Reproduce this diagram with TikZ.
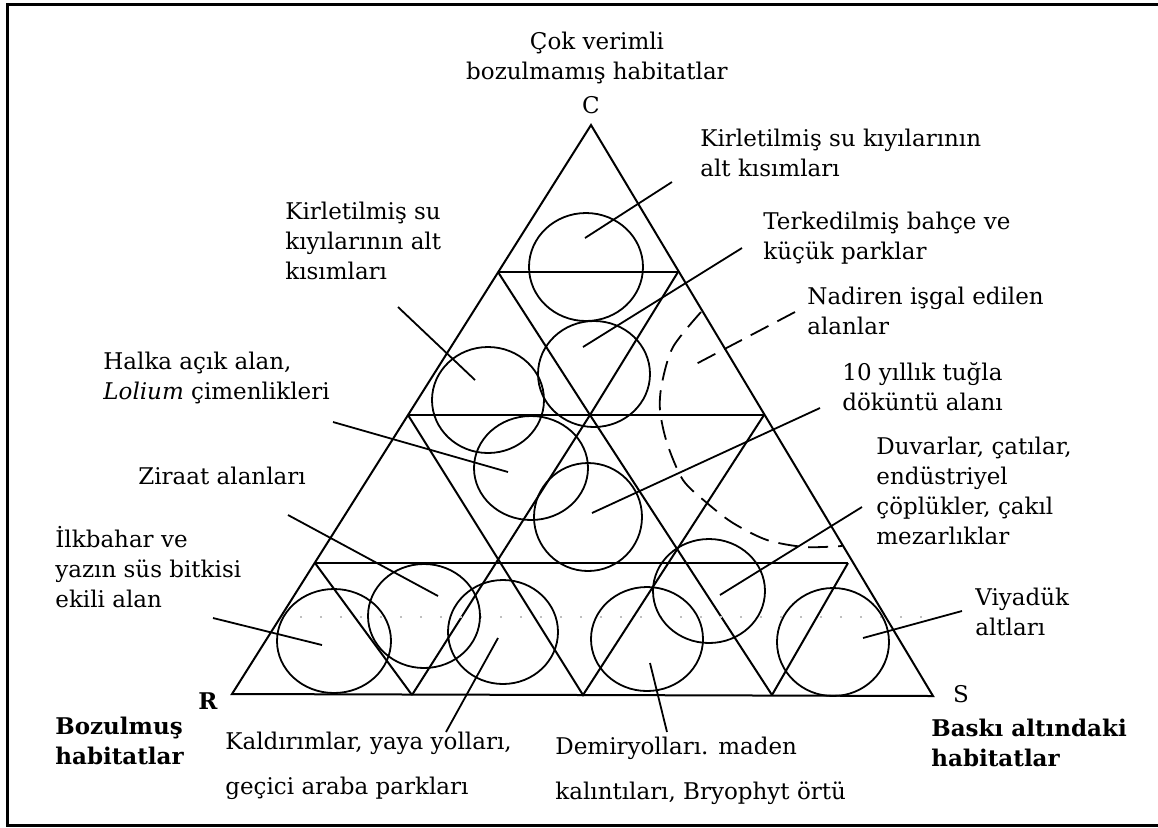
\documentclass[tikz,border=0pt]{standalone}
\usepackage{fontspec}
\setmainfont{DejaVu Serif}

\begin{document}
\begin{tikzpicture}[x=0.5pt,y=-0.5pt,
  edge/.style={line width=1pt},
  hab/.style={line width=0.9pt},
  leader/.style={line width=0.9pt},
  lbl/.style={anchor=north west, align=left, inner sep=0pt, font=\fontsize{11.5}{15}\selectfont},
  lblwide/.style={lbl, font=\fontsize{11.5}{22.5}\selectfont},
  corner/.style={inner sep=0pt, font=\fontsize{11.5}{15}\selectfont}]
\useasboundingbox (0,0) rectangle (1158,827);
\draw[line width=1.5pt] (1158,4.5) -- (7.5,4.5) -- (7.5,825.5) -- (1158,825.5);

\coordinate (C) at (591,125);
\coordinate (R) at (232,694);
\coordinate (S) at (933,696);
\coordinate (a1) at (498,272);
\coordinate (b1) at (678,272);
\coordinate (a2) at (408,415);
\coordinate (m2) at (590,415);
\coordinate (b2) at (764,415);
\coordinate (a3) at (315,563);
\coordinate (b3) at (848,563);
\coordinate (p1) at (412,695);
\coordinate (p2) at (583,695);
\coordinate (p3) at (772,695);

\draw[edge] (C) -- (R) -- (S) -- cycle;
\draw[edge] (a1) -- (b1);
\draw[edge] (a2) -- (b2);
\draw[edge] (a3) -- (b3);
\draw[edge] (a1) -- (m2) -- (b1);
\draw[edge] (a2) -- (p2) -- (b2);
\draw[edge] (p1) -- (m2) -- (p3);
\draw[edge] (a3) -- (p1);
\draw[edge] (b3) -- (p3);
\draw[black!25, line width=0.8pt, dash pattern=on 1pt off 9pt] (300,617) -- (930,617);

\draw[hab] (586,267) ellipse (57 and 54);
\draw[hab] (488,400) ellipse (56 and 53);
\draw[hab] (594,374) ellipse (56 and 53);
\draw[hab] (531,468) ellipse (57 and 52);
\draw[hab] (588,517) ellipse (54 and 54);
\draw[hab] (334,641) ellipse (57 and 52);
\draw[hab] (424,616) ellipse (56 and 52);
\draw[hab] (503,632) ellipse (55 and 52);
\draw[hab] (647,639) ellipse (56 and 52);
\draw[hab] (709,591) ellipse (56 and 52);
\draw[hab] (833,642) ellipse (56 and 54);
\draw[hab, dash pattern=on 10pt off 5pt] plot[smooth] coordinates {(701,312) (673,347) (662,383) (660,410) (667,443) (683,480) (707,503) (733,523) (767,540) (805,547) (842,546)};

\node[corner] (Clbl) at (591,105) {C};
\node[corner, font=\fontsize{11.5}{15}\bfseries] (Rlbl) at (208,701) {R};
\node[corner] (Slbl) at (961,694) {S};
\node[corner, anchor=north, align=center] (top) at (597,32) {Çok verimli\\bozulmamış habitatlar};
\node[lbl, font=\fontsize{11.5}{15}\bfseries] (boz) at (55,717) {Bozulmuş\\habitatlar};
\node[lbl, font=\fontsize{11.5}{15}\bfseries] (bask) at (931,719) {Baskı altındaki\\habitatlar};

\node[lbl] (kirR) at (700,129) {Kirletilmiş su kıyılarının\\alt kısımları};
\node[lbl] (terk) at (763,212) {Terkedilmiş bahçe ve\\küçük parklar};
\node[lbl] (nadir) at (807,287) {Nadiren işgal edilen\\alanlar};
\node[lbl] (tugla) at (842,362) {10 yıllık tuğla\\döküntü alanı};
\node[lbl] (duvar) at (876,437) {Duvarlar, çatılar,\\endüstriyel\\çöplükler, çakıl\\mezarlıklar};
\node[lbl] (viya) at (975,587) {Viyadük\\altları};
\node[lbl] (kirL) at (285,202) {Kirletilmiş su\\kıyılarının alt\\kısımları};
\node[lbl] (halka) at (103,352) {Halka açık alan,\\\textit{Lolium} çimenlikleri};
\node[lbl] (ziraat) at (138,467) {Ziraat alanları};
\node[lbl] (ilk) at (55,526) {İlkbahar ve\\yazın süs bitkisi\\ekili alan};
\node[lblwide] (kald) at (225,732) {Kaldırımlar, yaya yolları,\\geçici araba parkları};
\node[lblwide] (demir) at (555,737) {Demiryolları. maden\\kalıntıları, Bryophyt örtü};

\coordinate (kirR-s) at (672,182);  \coordinate (kirR-e) at (585,238);
\coordinate (terk-s) at (742,248);  \coordinate (terk-e) at (583,347);
\coordinate (kirL-s) at (398,307);  \coordinate (kirL-e) at (475,380);
\coordinate (halka-s) at (333,422); \coordinate (halka-e) at (508,472);
\coordinate (ziraat-s) at (288,515);\coordinate (ziraat-e) at (438,596);
\coordinate (ilk-s) at (213,618);   \coordinate (ilk-e) at (322,645);
\coordinate (tugla-s) at (820,408); \coordinate (tugla-e) at (592,513);
\coordinate (duvar-s) at (862,507); \coordinate (duvar-e) at (720,595);
\coordinate (viya-s) at (962,611);  \coordinate (viya-e) at (863,638);
\coordinate (kald-s) at (446,732);  \coordinate (kald-e) at (498,638);
\coordinate (demir-s) at (667,732); \coordinate (demir-e) at (650,663);
\coordinate (nadir-s) at (795,312); \coordinate (nadir-e) at (696,364);

\draw[leader] (kirR-s) -- (kirR-e);
\draw[leader] (terk-s) -- (terk-e);
\draw[leader] (kirL-s) -- (kirL-e);
\draw[leader] (halka-s) -- (halka-e);
\draw[leader] (ziraat-s) -- (ziraat-e);
\draw[leader] (ilk-s) -- (ilk-e);
\draw[leader] (tugla-s) -- (tugla-e);
\draw[leader] (duvar-s) -- (duvar-e);
\draw[leader] (viya-s) -- (viya-e);
\draw[leader] (kald-s) -- (kald-e);
\draw[leader] (demir-s) -- (demir-e);
\draw[leader, dash pattern=on 10pt off 5pt] (nadir-s) -- (nadir-e);
\end{tikzpicture}
\end{document}
